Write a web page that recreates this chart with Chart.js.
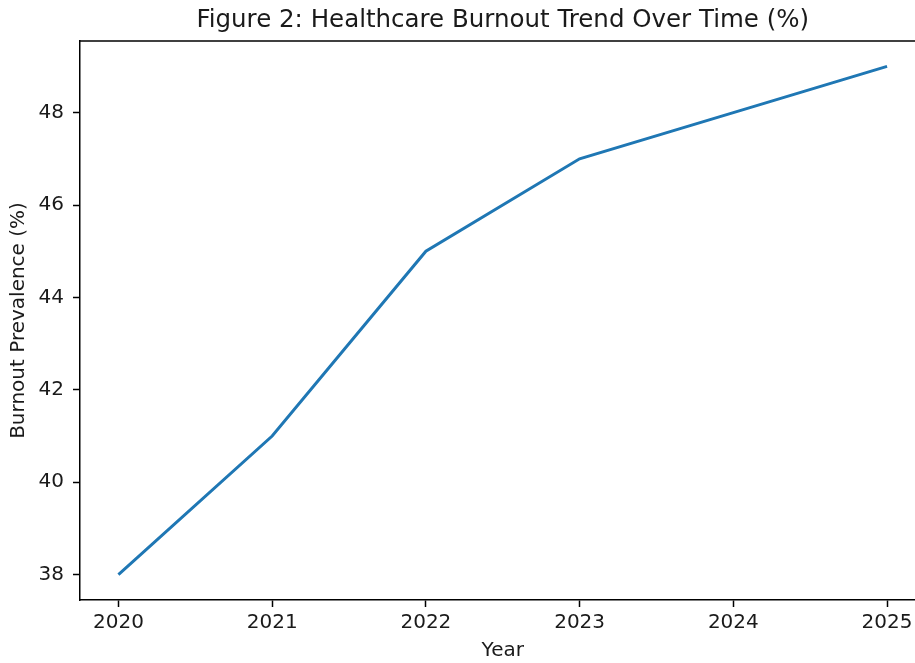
<!DOCTYPE html>
<html>
<head>
<meta charset="utf-8">
<script src="https://cdn.jsdelivr.net/npm/chart.js@4"></script>
<style>
  html, body { margin: 0; padding: 0; background: #fff; overflow: hidden; }
  canvas { display: block; }
</style>
</head>
<body>
<canvas id="c" width="915" height="663"></canvas>
<script>
// Burnout prevalence by year
const years = [2020, 2021, 2022, 2023, 2024, 2025];
const burnout = [38, 41, 45, 47, 48, 49];
const yTicks = [38, 40, 42, 44, 46, 48];

const FONT = "'DejaVu Sans', sans-serif";
const TEXT = '#1a1a1a';
// the plot frame continues this many pixels past the right edge of the canvas
const FRAME_OVERHANG = 10.5;

new Chart(document.getElementById('c'), {
  type: 'line',
  data: {
    datasets: [{
      data: years.map((y, i) => ({ x: y, y: burnout[i] })),
      borderColor: '#1f77b4',
      borderWidth: 3,
      pointRadius: 0,
      tension: 0,
      fill: false
    }]
  },
  options: {
    responsive: false,
    animation: false,
    layout: { padding: 0 },
    plugins: {
      legend: { display: false },
      tooltip: { enabled: false },
      title: {
        display: true,
        fullSize: false,
        text: 'Figure 2: Healthcare Burnout Trend Over Time (%)',
        color: TEXT,
        font: { family: FONT, size: 24.5, weight: 'normal' },
        padding: { top: 6, bottom: 5.6 }
      }
    },
    scales: {
      x: {
        type: 'linear',
        min: 2019.75,
        max: 2025.25,
        afterBuildTicks: s => { s.ticks = years.map(v => ({ value: v })); },
        afterFit: s => { s.height = 63; s.paddingLeft = 0; s.paddingRight = 0; },
        border: { display: true, color: '#000', width: 1.5 },
        grid: { drawOnChartArea: false, drawTicks: true, tickLength: 7, color: '#000', tickWidth: 1.5 },
        ticks: {
          color: TEXT,
          font: { family: FONT, size: 20 },
          padding: 4,
          maxRotation: 0,
          callback: v => String(v)
        },
        title: {
          display: true,
          text: 'Year',
          color: TEXT,
          font: { family: FONT, size: 20 },
          padding: { top: 0, bottom: 0.5 }
        }
      },
      y: {
        type: 'linear',
        min: 37.45,
        max: 49.55,
        afterBuildTicks: s => { s.ticks = yTicks.map(v => ({ value: v })); },
        afterFit: s => { s.width = 80; s.paddingTop = 0; s.paddingBottom = 0; },
        border: { display: true, color: '#000', width: 1.5 },
        grid: { drawOnChartArea: false, drawTicks: true, tickLength: 7, color: '#000', tickWidth: 1.5 },
        ticks: {
          color: TEXT,
          font: { family: FONT, size: 20 },
          padding: 9,
          callback: v => String(v)
        },
        title: {
          display: true,
          text: 'Burnout Prevalence (%)',
          color: TEXT,
          font: { family: FONT, size: 20 },
          padding: { top: 7, bottom: 0 }
        }
      }
    }
  },
  plugins: [{
    // widen the plot area past the canvas edge, then re-map the x scale
    id: 'overhang',
    afterLayout(chart) {
      const a = chart.chartArea;
      a.right += FRAME_OVERHANG;
      a.width += FRAME_OVERHANG;
      const x = chart.scales.x;
      x.right += FRAME_OVERHANG;
      x.width += FRAME_OVERHANG;
      x.configure();
      const t = chart.titleBlock;
      if (t) {
        t.right += FRAME_OVERHANG;
        t.width += FRAME_OVERHANG;
      }
    }
  }, {
    // top spine of the plot frame; the right edge of the canvas stays open
    id: 'frame',
    afterDraw(chart) {
      const { ctx, chartArea: a, width } = chart;
      ctx.save();
      ctx.fillStyle = '#fff';
      ctx.fillRect(width - 3, a.top + 2, 3, a.bottom - a.top - 4);
      ctx.strokeStyle = '#000';
      ctx.lineWidth = 1.5;
      ctx.beginPath();
      ctx.moveTo(a.left, a.top);
      ctx.lineTo(a.right, a.top);
      ctx.stroke();
      ctx.restore();
    }
  }]
});
</script>
</body>
</html>
